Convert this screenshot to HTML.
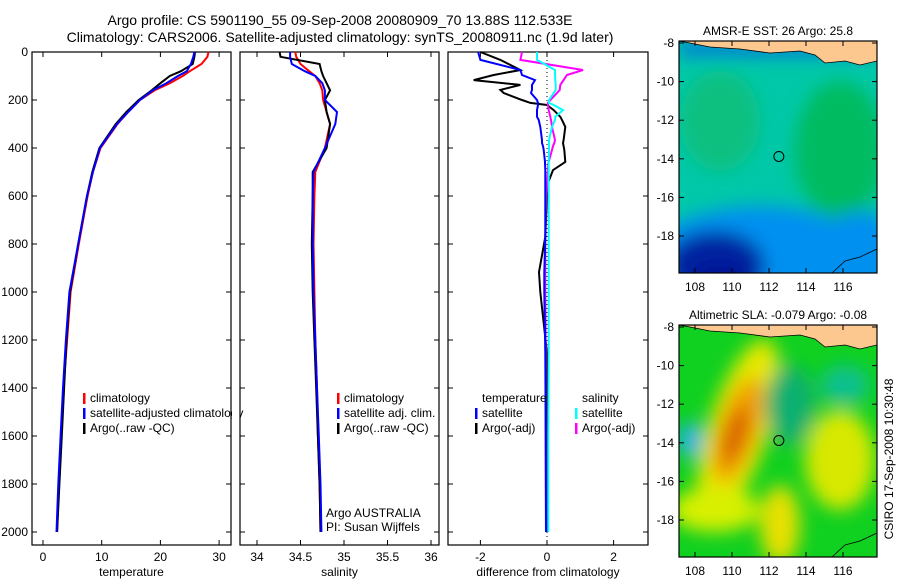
<!DOCTYPE html>
<html><head><meta charset="utf-8"><style>
body{margin:0;background:#fff;}
svg{display:block;font-family:"Liberation Sans",sans-serif;}
</style></head><body>
<svg id="c" width="900" height="580" viewBox="0 0 900 580" xmlns="http://www.w3.org/2000/svg">
<defs>
<filter id="bl" x="-20%" y="-20%" width="140%" height="140%"><feGaussianBlur stdDeviation="9"/></filter>
<clipPath id="m1c"><rect x="679" y="41" width="198" height="232"/></clipPath>
<clipPath id="m2c"><rect x="679" y="325" width="198" height="232"/></clipPath>
</defs>
<text x="340" y="25" font-size="14" text-anchor="middle">Argo profile: CS 5901190_55 09-Sep-2008 20080909_70 13.88S 112.533E</text>
<text x="340" y="42" font-size="14" text-anchor="middle">Climatology: CARS2006. Satellite-adjusted climatology: synTS_20080911.nc (1.9d later)</text>
<g id="g"></g>
</svg>
<script>
// shared depth levels (dbar)
const depths=[0,20,50,80,100,130,160,200,250,300,400,500,600,800,1000,1200,1400,1600,1800,2000];
// temperature series
const tClim=[28.2,28,27,25,23.8,21.6,19,16.5,14.5,12.7,9.8,8.5,7.6,6.1,4.7,4.1,3.5,3.1,2.7,2.4];
const tSat=[25.8,25.6,25.2,24.5,23,21,18.7,16.5,14.5,12.6,9.7,8.5,7.5,6,4.5,3.9,3.4,3,2.6,2.3];
const tArgo=[25.9,25.8,25.5,23.5,21.6,20,18.5,16.3,14.2,12.4,9.6,8.4,7.5,6,4.6,4,3.6,3.2,2.8,2.4];
// salinity series
const sClim=[34.44,34.45,34.5,34.6,34.67,34.72,34.75,34.76,34.8,34.84,34.78,34.67,34.66,34.65,34.66,34.67,34.69,34.7,34.72,34.73];
const sSat=[34.38,34.38,34.4,34.55,34.67,34.75,34.78,34.78,34.92,34.9,34.78,34.65,34.64,34.64,34.65,34.67,34.69,34.71,34.73,34.74];
const sArgo=[34.26,34.27,34.72,34.74,34.76,34.8,34.84,34.78,34.8,34.84,34.8,34.64,34.64,34.63,34.64,34.66,34.68,34.7,34.72,34.73];
// difference panel series
const dDepths=[0,33,75,96,117,137,158,171,200,212,221,242,270,283,312,367,379,392,408,458,463,492,546,600,770,917,1000,1254,1600,2000];
const dTSat=[-2.07,-2.0,-0.8,-0.75,-0.36,-0.45,-0.45,-0.48,-0.3,-0.27,-0.27,-0.3,-0.3,-0.25,-0.2,-0.15,-0.15,-0.12,-0.1,-0.06,-0.06,-0.05,-0.05,-0.05,-0.05,-0.08,-0.08,-0.05,-0.04,-0.03];
const dTArgo=[-2.0,-1.4,-0.8,-1.6,-2.2,-0.8,-1.4,-1.3,-0.75,-0.5,0,0.2,0.4,0.45,0.55,0.5,0.48,0.5,0.52,0.55,0.5,0.18,0.03,0,-0.05,-0.24,-0.2,0,0,0];
const dSSat=[-0.3,-0.3,0.24,0.24,0.25,0.26,0.26,0.2,0.06,0.06,0.2,0.48,0.25,0.24,0.15,0.06,0.06,0.06,0.06,0.05,0.05,0.05,0.05,0.05,0.05,0.05,0.05,0.05,0.04,0.04];
const dSArgo=[-0.75,-0.8,1.08,0.6,0.5,0.4,0.38,0.3,0.1,0.03,0.03,0.05,0.1,0.12,0.15,0.24,0.22,0.18,0.15,0.05,0.04,0.03,0,-0.03,-0.05,-0.05,-0.05,-0.04,-0.04,-0.03];
// tick labels
const depthTicks=[0,200,400,600,800,1000,1200,1400,1600,1800,2000];
const tTicks=[0,10,20,30];
const sTicks=[34,34.5,35,35.5,36];
const dTicks=[-2,0,2];
const lonTicks=[108,110,112,114,116];
const latTicks=[-8,-10,-12,-14,-16,-18];
const argoLon=112.533, argoLat=-13.88;

const NS='http://www.w3.org/2000/svg';
const G=document.getElementById('g');
function el(t,a,p){const e=document.createElementNS(NS,t);for(const k in a)e.setAttribute(k,a[k]);(p||G).appendChild(e);return e;}
function txt(x,y,s,a,p){const e=el('text',Object.assign({x:x,y:y,'font-size':12},a||{}),p);e.textContent=s;return e;}
const yD=d=>52+d*0.24;

function panel(name,L,R,xf,ticks,lbl,fmt){
  const g=el('g',{});
  
  
  const box=el('rect',{x:L,y:52,width:R-L,height:493,fill:'none',stroke:'#000','stroke-width':1.2},g);
  
  
  depthTicks.forEach(d=>{const y=yD(d);
    el('line',{x1:L,x2:L+5,y1:y,y2:y,stroke:'#000'},g);el('line',{x1:R,x2:R-5,y1:y,y2:y,stroke:'#000'},g);
    if(name==='temperature'){const t=txt(L-4,y+4,String(d),{'text-anchor':'end'},g);}
  });
  ticks.forEach(v=>{const x=xf(v);
    el('line',{x1:x,x2:x,y1:545,y2:540,stroke:'#000'},g);el('line',{x1:x,x2:x,y1:52,y2:57,stroke:'#000'},g);
    const t=txt(x,561,fmt?fmt(v):String(v),{'text-anchor':'middle'},g);
  });
  const xl=txt((L+R)/2,576,lbl,{'text-anchor':'middle'},g);
  
  return g;
}
function line(g,xf,ds,vals,col,nm){
  const pts=vals.map((v,i)=>xf(v).toFixed(1)+','+yD(ds[i]).toFixed(1)).join(' ');
  const p=el('polyline',{points:pts,fill:'none',stroke:col,'stroke-width':2},g);
  
  
}
function legend(g,x,y,items){
  items.forEach((it,i)=>{const yy=y+i*15;
    if(it[1])el('rect',{x:x,y:yy-9,width:2.5,height:11,fill:it[1]},g);
    const t=txt(x+7,yy,it[0],{},g);
    
    
  });
}

// temperature panel
const xT=v=>43+v*5.87;
const gT=panel('temperature',32,231,xT,tTicks,'temperature');
line(gT,xT,depths,tClim,'#f00','temperature-climatology-line');
line(gT,xT,depths,tArgo,'#000','temperature-argo-line');
line(gT,xT,depths,tSat,'#00f','temperature-satellite-line');
legend(gT,83,402,[['climatology','#f00'],['satellite-adjusted climatology','#00f'],['Argo(..raw -QC)','#000']]);
el('rect',{x:232,y:390,width:8,height:50,fill:'#fff'});

// salinity panel
const xS=v=>257+(v-34)*87;
const gS=panel('salinity',240,439,xS,sTicks,'salinity');
line(gS,xS,depths,sClim,'#f00','salinity-climatology-line');
line(gS,xS,depths,sArgo,'#000','salinity-argo-line');
line(gS,xS,depths,sSat,'#00f','salinity-satellite-line');
legend(gS,337,402,[['climatology','#f00'],['satellite adj. clim.','#00f'],['Argo(..raw -QC)','#000']]);
txt(326,517,'Argo AUSTRALIA',{},gS);
txt(326,531,'PI: Susan Wijffels',{},gS);

// difference panel
const xDf=v=>547+v*33.3;
const gD=panel('difference',448,648,xDf,dTicks,'difference from climatology');
el('line',{x1:xDf(0),x2:xDf(0),y1:52,y2:545,stroke:'#000','stroke-dasharray':'1,3'},gD);
line(gD,xDf,dDepths,dTArgo,'#000','difference-temp-argo-line');
line(gD,xDf,dDepths,dSArgo,'#f0f','difference-sal-argo-line');
line(gD,xDf,dDepths,dSSat,'#0ff','difference-sal-satellite-line');
line(gD,xDf,dDepths,dTSat,'#00f','difference-temp-satellite-line');
legend(gD,475,402,[['temperature',null],['satellite','#00f'],['Argo(-adj)','#000']]);
legend(gD,575,402,[['salinity',null],['satellite','#0ff'],['Argo(-adj)','#f0f']]);

// maps
const lonX=v=>695+(v-108)*18.5;
function map(top,title,nm,kind){
  const g=el('g',{});
  
  
  const latY=v=>top+2+(-8-v)*19.3;
  const c=el('g',{'clip-path':'url(#'+(kind==='sst'?'m1c':'m2c')+')'},g);
  if(kind==='sst'){
    el('rect',{x:679,y:top,width:198,height:232,fill:'#00c8a8'},c);
    const b=el('g',{filter:'url(#bl)'},c);
    el('ellipse',{cx:840,cy:top+110,rx:45,ry:70,fill:'#00bb60'},b);
    el('ellipse',{cx:720,cy:top+80,rx:40,ry:50,fill:'#10c080'},b);
    el('ellipse',{cx:760,cy:top+225,rx:120,ry:60,fill:'#0090f0'},b);
    el('ellipse',{cx:860,cy:top+210,rx:40,ry:40,fill:'#0090f0'},b);
    el('ellipse',{cx:715,cy:top+225,rx:50,ry:35,fill:'#0020a0'},b);
    el('ellipse',{cx:720,cy:top+245,rx:30,ry:20,fill:'#000890'},b);
    el('rect',{x:679,y:top,width:198,height:14,fill:'#0070e0'},b);
    el('rect',{x:840,y:top,width:40,height:20,fill:'#e0f000'},c);
  } else {
    el('rect',{x:679,y:top,width:198,height:232,fill:'#10d020'},c);
    const b=el('g',{filter:'url(#bl)'},c);
    el('ellipse',{cx:738,cy:top+105,rx:30,ry:95,fill:'#e8e800',transform:'rotate(18 738 '+(top+105)+')'},b);
    el('ellipse',{cx:738,cy:top+105,rx:20,ry:55,fill:'#f0a000',transform:'rotate(18 738 '+(top+105)+')'},b);
    el('ellipse',{cx:735,cy:top+110,rx:11,ry:30,fill:'#d86000',transform:'rotate(18 735 '+(top+110)+')'},b);
    el('ellipse',{cx:715,cy:top+185,rx:45,ry:22,fill:'#d8f000'},b);
    el('ellipse',{cx:840,cy:top+135,rx:35,ry:50,fill:'#d8e800'},b);
    el('ellipse',{cx:780,cy:top+200,rx:20,ry:40,fill:'#e8e000'},b);
    el('ellipse',{cx:690,cy:top+115,rx:12,ry:18,fill:'#20b0f0'},b);
    el('ellipse',{cx:790,cy:top+80,rx:25,ry:40,fill:'#10b070'},b);
    el('ellipse',{cx:845,cy:top+60,rx:25,ry:20,fill:'#10c090'},b);
  }
  // land
  el('path',{d:'M679 '+top+' L877 '+top+' L877 '+(top+20)+' L860 '+(top+24)+' L845 '+(top+20)+' L825 '+(top+22)+' L815 '+(top+14)+' L800 '+(top+10)+' L770 '+(top+12)+' L740 '+(top+8)+' L710 '+(top+6)+' L690 '+(top+2)+' Z',fill:'#fcc890',stroke:'#000','stroke-width':0.8},c);
  el('path',{d:'M832 '+(top+232)+' L845 '+(top+220)+' L860 '+(top+216)+' L877 '+(top+208),fill:'none',stroke:'#000','stroke-width':0.8},c);
  const bx=el('rect',{x:679,y:top,width:198,height:232,fill:'none',stroke:'#000','stroke-width':1.2},g);
  
  
  lonTicks.forEach(v=>{const x=lonX(v);el('line',{x1:x,x2:x,y1:top+232,y2:top+227,stroke:'#000'},g);el('line',{x1:x,x2:x,y1:top,y2:top+5,stroke:'#000'},g);
    txt(x,top+250,String(v),{'text-anchor':'middle'},g);});
  latTicks.forEach(v=>{const y=latY(v);el('line',{x1:679,x2:684,y1:y,y2:y,stroke:'#000'},g);el('line',{x1:877,x2:872,y1:y,y2:y,stroke:'#000'},g);
    txt(674,y+4,String(v),{'text-anchor':'end'},g);});
  const mk=el('circle',{cx:lonX(argoLon),cy:latY(argoLat),r:5,fill:'none',stroke:'#000','stroke-width':1},g);
  
  
  const t=txt(778,top-6,title,{'text-anchor':'middle'},g);
  
  
}
map(41,'AMSR-E SST: 26 Argo: 25.8','sst-map','sst');
map(325,'Altimetric SLA: -0.079 Argo: -0.08','sla-map','sla');
const st=txt(0,0,'CSIRO 17-Sep-2008 10:30:48',{'text-anchor':'middle',transform:'translate(893,459) rotate(-90)'});


</script>
</body></html>
